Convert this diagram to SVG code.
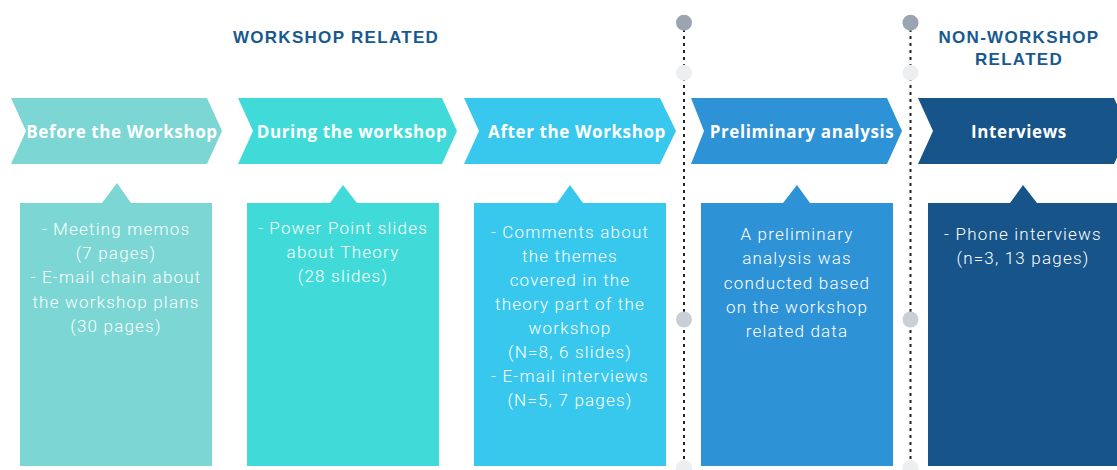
<svg xmlns="http://www.w3.org/2000/svg" width="1117" height="470" viewBox="0 0 1117 470">
<style>
.title{font-family:"Liberation Sans",Arial,sans-serif;font-weight:700;font-size:17px;fill:#185a8f;letter-spacing:1.3px;text-anchor:middle}
.chev{font-family:"Open Sans","Liberation Sans",sans-serif;font-weight:700;font-size:17px;fill:#ffffff;letter-spacing:0.6px;text-anchor:middle}
.body{font-family:Roboto,"Liberation Sans",sans-serif;font-weight:300;font-size:17px;fill:#ffffff;letter-spacing:1.2px;text-anchor:middle}
.dot{stroke:#222222;stroke-width:2;stroke-dasharray:3 4;fill:none}
.c1{fill:#7bd6d4}.c2{fill:#40dbd8}.c3{fill:#38c8ee}.c4{fill:#2e92d6}.c5{fill:#16548a}
</style>
<rect width="1117" height="470" fill="#ffffff"/>
<g id="connectors">
<line class="dot" x1="684" y1="22" x2="684" y2="470"/>
<line class="dot" x1="910.5" y1="22" x2="910.5" y2="470"/>
<circle cx="684" cy="22.7" r="8" fill="#9aa5b1"/>
<circle cx="684" cy="72.7" r="8" fill="#eceef0"/>
<circle cx="684" cy="319.5" r="8" fill="#c8cfd6"/>
<circle cx="684" cy="468" r="8" fill="#eceef0"/>
<circle cx="910.5" cy="22.7" r="8" fill="#9aa5b1"/>
<circle cx="910.5" cy="72.7" r="8" fill="#eceef0"/>
<circle cx="910.5" cy="319.5" r="8" fill="#c8cfd6"/>
<circle cx="910.5" cy="468" r="8" fill="#eceef0"/>
</g>
<g id="title-workshop">
<text class="title" x="336" y="43">WORKSHOP RELATED</text>
</g>
<g id="title-nonworkshop">
<text class="title" x="1019" y="43">NON-WORKSHOP</text>
<text class="title" x="1019" y="65">RELATED</text>
</g>
<g id="step-before">
<polygon class="c1" points="11,98 207,98 222,131 207,164 11,164 26,131"/>
<text class="chev" x="122" y="138">Before the Workshop</text>
</g>
<g id="step-during">
<polygon class="c2" points="238,98 442,98 457,131 442,164 238,164 253,131"/>
<text class="chev" x="352" y="138">During the workshop</text>
</g>
<g id="step-after">
<polygon class="c3" points="464,98 660,98 676,131 660,164 464,164 479,131"/>
<text class="chev" x="577" y="138">After the Workshop</text>
</g>
<g id="step-preliminary">
<polygon class="c4" points="691,98 887,98 902,131 887,164 691,164 704,131"/>
<text class="chev" x="802" y="138">Preliminary analysis</text>
</g>
<g id="step-interviews">
<polygon class="c5" points="918,98 1114,98 1129,131 1114,164 918,164 933,131"/>
<text class="chev" x="1019" y="138">Interviews</text>
</g>
<g id="box-before">
<path class="c1" d="M20,203 H102 L117,183 L131,203 H212 V466 H20 Z"/>
<text class="body" x="116" y="235">- Meeting memos</text>
<text class="body" x="116" y="259">(7 pages)</text>
<text class="body" x="116" y="283">- E-mail chain about</text>
<text class="body" x="116" y="308">the workshop plans</text>
<text class="body" x="116" y="332">(30 pages)</text>
</g>
<g id="box-during">
<path class="c2" d="M247,203 H330 L343,185 L357,203 H439 V466 H247 Z"/>
<text class="body" x="343" y="234">- Power Point slides</text>
<text class="body" x="343" y="258">about Theory</text>
<text class="body" x="343" y="282">(28 slides)</text>
</g>
<g id="box-after">
<path class="c3" d="M474,203 H557 L570,185 L583,203 H666 V466 H474 Z"/>
<text class="body" x="570" y="238">- Comments about</text>
<text class="body" x="570" y="262">the themes</text>
<text class="body" x="570" y="286">covered in the</text>
<text class="body" x="570" y="310">theory part of the</text>
<text class="body" x="570" y="334">workshop</text>
<text class="body" x="570" y="358">(N=8, 6 slides)</text>
<text class="body" x="570" y="382">- E-mail interviews</text>
<text class="body" x="570" y="406">(N=5, 7 pages)</text>
</g>
<g id="box-preliminary">
<path class="c4" d="M701,203 H783 L797,185 L810,203 H893 V466 H701 Z"/>
<text class="body" x="797" y="240">A preliminary</text>
<text class="body" x="797" y="264">analysis was</text>
<text class="body" x="797" y="289">conducted based</text>
<text class="body" x="797" y="313">on the workshop</text>
<text class="body" x="797" y="337">related data</text>
</g>
<g id="box-interviews">
<path class="c5" d="M928,203 H1010 L1023,185 L1037,203 H1117 V466 H928 Z"/>
<text class="body" x="1023" y="240">- Phone interviews</text>
<text class="body" x="1023" y="264">(n=3, 13 pages)</text>
</g>
</svg>
